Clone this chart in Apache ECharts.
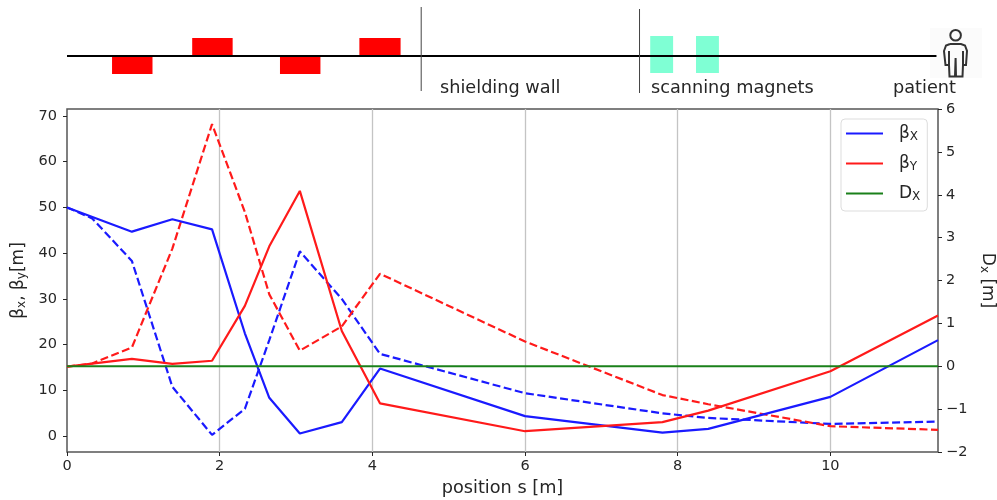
<!DOCTYPE html>
<html>
<head>
<meta charset="utf-8">
<style>
  html, body { margin: 0; padding: 0; background: #fff; }
  #main { width: 997px; height: 500px; }
</style>
<script src="https://cdn.jsdelivr.net/npm/echarts@6/dist/echarts.min.js"></script>
</head>
<body>
<div id="main"></div>
<script>
  // optics along the beamline, s in metres
  var sSolid = [0, 0.85, 1.38, 1.9, 2.33, 2.65, 3.05, 3.6, 4.1, 6, 7.8, 8.4, 10, 11.41];
  var betaXSolid = [50, 44.7, 47.4, 45.2, 22.5, 8.4, 0.6, 3.1, 14.8, 4.4, 0.8, 1.6, 8.6, 21];
  var betaYSolid = [15.2, 16.9, 15.8, 16.5, 28.5, 41.5, 53.6, 23, 7.2, 1.1, 3.1, 5.6, 14.2, 26.4];
  var sDashed = [0, 0.33, 0.85, 1.38, 1.9, 2.33, 2.65, 3.05, 3.6, 4.1, 6, 7.8, 8.4, 10, 11.41];
  var betaXDashed = [50, 47.6, 38.3, 10.8, 0.3, 6, 21, 40.4, 30, 18, 9.4, 5, 4, 2.7, 3.2];
  var betaYDashed = [15.2, 15.9, 19.4, 41, 68.2, 49, 31, 18.7, 24, 35.5, 20.7, 9, 7, 2.2, 1.4];
  var sDisp = [0, 11.41];
  var dispX = [0, 0];

  var leftTicks = [0, 10, 20, 30, 40, 50, 60, 70];

  // beamline sketch: [s start, s end, bottom, top]
  var dipoles = [[0.59, 1.12, -18, 0], [1.64, 2.17, 0, 18], [2.79, 3.32, -18, 0], [3.83, 4.37, 0, 18]];
  var scanners = [[7.64, 7.94, -17, 20], [8.24, 8.54, -17, 20]];
  var walls = [[4.64, -35, 49], [7.5, -37, 47]];

  var font = 'DejaVu Sans';
  var textColor = '#262626';
  var spine = '#555';
  var xMax = 11.41;

  function zip(a, b) {
    return a.map(function (v, i) { return [v, b[i]]; });
  }

  var subRich = {
    n: { fontFamily: font, fontSize: 17, color: textColor },
    s: { fontFamily: font, fontSize: 12, color: textColor, padding: [7, 0, 0, 0] }
  };

  function boxes(rows, color, z) {
    return {
      type: 'custom',
      xAxisIndex: 1,
      yAxisIndex: 2,
      z: z,
      silent: true,
      data: rows,
      renderItem: function (params, api) {
        var a = api.coord([api.value(0), api.value(3)]);
        var b = api.coord([api.value(1), api.value(2)]);
        return {
          type: 'rect',
          shape: { x: a[0], y: a[1], width: b[0] - a[0], height: b[1] - a[1] },
          style: { fill: color }
        };
      }
    };
  }

  var series = [
    { name: 'betaXDashed', type: 'line', data: zip(sDashed, betaXDashed), lineStyle: { color: '#1a1aff', width: 2.2, type: [8, 3.5] }, itemStyle: { color: '#1a1aff' } },
    { name: 'betaYDashed', type: 'line', data: zip(sDashed, betaYDashed), lineStyle: { color: '#ff1a1a', width: 2.2, type: [8, 3.5] }, itemStyle: { color: '#ff1a1a' } },
    { name: 'βX', type: 'line', data: zip(sSolid, betaXSolid), lineStyle: { color: '#1a1aff', width: 2.2 }, itemStyle: { color: '#1a1aff' } },
    { name: 'βY', type: 'line', data: zip(sSolid, betaYSolid), lineStyle: { color: '#ff1a1a', width: 2.2 }, itemStyle: { color: '#ff1a1a' } },
    { name: 'DX', type: 'line', yAxisIndex: 1, data: zip(sDisp, dispX), lineStyle: { color: '#1a801a', width: 2.2 }, itemStyle: { color: '#1a801a' } }
  ];
  series.forEach(function (s) {
    s.symbol = 'none';
    s.silent = true;
  });

  series.push(boxes(dipoles, '#ff0000', 2));
  series.push(boxes(scanners, '#7fffd4', 2));
  series.push({
    type: 'line', xAxisIndex: 1, yAxisIndex: 2, symbol: 'none', silent: true, z: 3,
    data: [[0, 0], [11.39, 0]],
    lineStyle: { color: '#000', width: 2 }
  });
  walls.forEach(function (w) {
    series.push({
      type: 'line', xAxisIndex: 1, yAxisIndex: 2, symbol: 'none', silent: true, z: 3,
      data: [[w[0], w[1]], [w[0], w[2]]],
      lineStyle: { color: '#444', width: 1 }
    });
  });

  function label(text, x) {
    return {
      type: 'text', left: x, top: 79, silent: true,
      style: { text: text, fontFamily: font, fontSize: 17.7, fill: textColor }
    };
  }

  function figure(points) {
    return {
      type: 'polyline', silent: true,
      shape: { points: points },
      style: { fill: 'none', stroke: '#333', lineWidth: 2 }
    };
  }

  var option = {
    animation: false,
    backgroundColor: '#fff',
    grid: [
      { left: 67, top: 109, width: 871, height: 343, show: true, outerBoundsMode: 'none', borderColor: spine, borderWidth: 1.5, backgroundColor: 'transparent' },
      { left: 67, top: 6, width: 871, height: 100, show: false, outerBoundsMode: 'none' }
    ],
    xAxis: [
      {
        type: 'value', min: 0, max: xMax, interval: 2,
        name: 'position s [m]', nameLocation: 'middle', nameGap: 27,
        nameTextStyle: { fontFamily: font, fontSize: 17.7, color: textColor },
        axisLine: { show: false, onZero: false },
        axisTick: { show: true, length: 4, lineStyle: { color: textColor } },
        axisLabel: { fontFamily: font, fontSize: 14.5, color: textColor, margin: 7, showMaxLabel: false },
        splitLine: { show: true, showMaxLine: false, showMinLine: false, lineStyle: { color: '#c4c4c4', width: 1.3 } }
      },
      { type: 'value', gridIndex: 1, min: 0, max: xMax, show: false, splitLine: { show: false } }
    ],
    yAxis: [
      {
        type: 'value', min: -3.44, max: 71.5, position: 'left',
        name: '{n|β}{s|x}{n|, β}{s|y}{n|[m]}', nameLocation: 'middle', nameGap: 37, nameRotate: 90,
        nameTextStyle: { rich: subRich },
        axisLine: { show: false, onZero: false },
        axisTick: { show: true, length: 4, customValues: leftTicks, lineStyle: { color: textColor } },
        axisLabel: { fontFamily: font, fontSize: 14.5, color: textColor, margin: 10, padding: [2, 0, 0, 0], customValues: leftTicks },
        splitLine: { show: false }
      },
      {
        type: 'value', min: -2, max: 6, interval: 1, position: 'right',
        name: '{n|D}{s|x}{n| [m]}', nameLocation: 'middle', nameGap: 38, nameRotate: -90,
        nameTextStyle: { rich: subRich },
        axisLine: { show: false, onZero: false },
        axisTick: { show: true, length: 4, lineStyle: { color: textColor } },
        axisLabel: {
          fontFamily: font, fontSize: 14.5, color: textColor, margin: 8, padding: [2, 0, 0, 0],
          formatter: function (v) { return String(v).replace('-', '\u2212'); }
        },
        splitLine: { show: false }
      },
      { type: 'value', gridIndex: 1, min: -50, max: 50, show: false, splitLine: { show: false } }
    ],
    legend: {
      left: 841, top: 119,
      orient: 'vertical',
      data: ['βX', 'βY', 'DX'],
      icon: 'rect',
      itemWidth: 37, itemHeight: 2, itemGap: 12,
      padding: [6, 7, 8, 5],
      backgroundColor: 'rgba(255,255,255,0.85)',
      borderColor: '#ddd', borderWidth: 1, borderRadius: 4,
      selectedMode: false,
      formatter: function (name) {
        return '{n|' + name.charAt(0) + '}{s|' + name.charAt(1) + '}';
      },
      textStyle: {
        padding: [0, 0, 0, 11],
        rich: subRich
      }
    },
    graphic: [
      { type: 'rect', z: -1, silent: true, shape: { x: 930, y: 28, width: 52, height: 50 }, style: { fill: '#fbfbfb' } },
      { type: 'circle', silent: true, shape: { cx: 955.6, cy: 35.3, r: 5.3 }, style: { fill: 'none', stroke: '#333', lineWidth: 2 } },
      figure([[950, 44], [961, 44], [965, 45.5], [967, 51], [966, 65], [963, 65], [962.5, 76.5], [956, 76.5], [955.6, 58], [955, 76.5], [949.5, 76.5], [949, 65], [945.5, 65], [944, 51], [946, 45.5], [950, 44]]),
      figure([[949, 51], [949, 65]]),
      figure([[963, 51], [963, 65]]),
      label('shielding wall', 440),
      label('scanning magnets', 651),
      label('patient', 893)
    ],
    series: series
  };

  var myChart = echarts.init(document.getElementById('main'));
  myChart.setOption(option);
</script>
</body>
</html>
